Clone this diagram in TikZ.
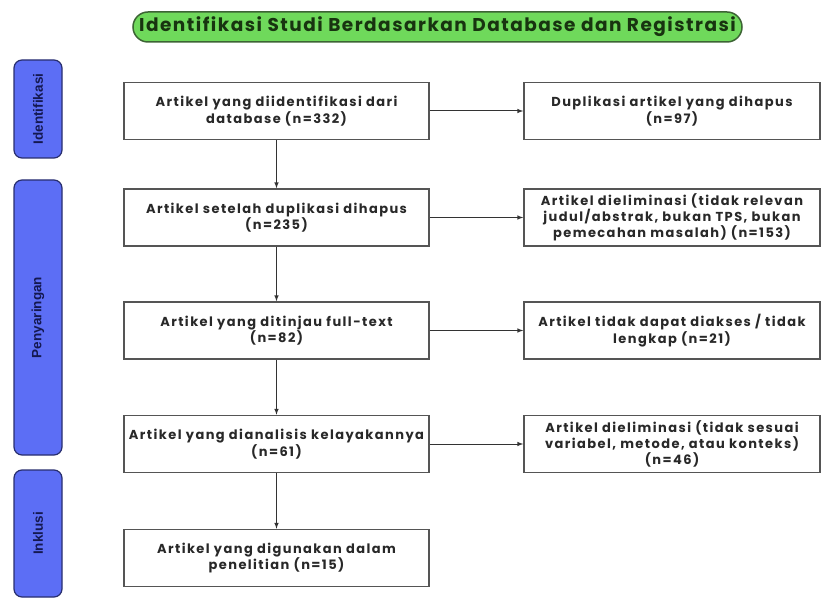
\documentclass[tikz,border=0pt]{standalone}
\usepackage{fontspec}
\setmainfont{Poppins}
\newfontfamily\boxfont{Poppins}[LetterSpace=11]
\newfontfamily\titlefont{Poppins}[LetterSpace=8]
\newfontfamily\sidefont{Liberation Sans}
\usetikzlibrary{arrows}
\definecolor{pillgreen}{RGB}{111,217,91}
\definecolor{pilledge}{RGB}{60,100,52}
\definecolor{pilltext}{RGB}{24,52,16}
\definecolor{sideblue}{RGB}{92,110,245}
\definecolor{sideedge}{RGB}{40,46,110}
\definecolor{sidetext}{RGB}{20,24,80}
\definecolor{boxedge}{RGB}{85,85,85}
\definecolor{boxtext}{RGB}{40,40,40}

\begin{document}
\begin{tikzpicture}[x=1pt,y=-1pt,
  box/.style={draw=boxedge, line width=1.5pt, minimum height=57pt, inner sep=0pt,
    align=center, text=boxtext, font=\boxfont\bfseries\fontsize{13}{14.5}\selectfont},
  lbox/.style={box, minimum width=305pt},
  rbox/.style={box, minimum width=296pt},
  side/.style={draw=sideedge, fill=sideblue, line width=1.2pt, rounded corners=8pt,
    rotate=90, minimum height=48pt, inner sep=0pt, text=sidetext,
    font=\sidefont\bfseries\fontsize{13.5}{16}\selectfont},
  arr/.style={-latex, draw=black!80, line width=1pt}]
\useasboundingbox (0,0) rectangle (822,601);

% title
\node[draw=pilledge, fill=pillgreen, line width=1.5pt, rounded corners=15pt,
  minimum width=609pt, minimum height=30pt, inner sep=0pt, text=pilltext,
  font=\titlefont\bfseries\fontsize{18.5}{20}\selectfont] (T) at (437.5,27)
  {Identifikasi Studi Berdasarkan Database dan Registrasi};

% phases
\node[side, minimum width=98pt] (S1) at (38,109) {Identifikasi};
\node[side, minimum width=275pt] (S2) at (38,317.5) {Penyaringan};
\node[side, minimum width=127pt] (S3) at (38,533.5) {Inklusi};

% main column
\node[lbox] (L1) at (276.5,111) {Artikel yang diidentifikasi dari\\database (n=332)};
\node[lbox] (L2) at (276.5,217.5) {Artikel setelah duplikasi dihapus\\(n=235)};
\node[lbox] (L3) at (276.5,330.5) {Artikel yang ditinjau full-text\\(n=82)};
\node[lbox] (L4) at (276.5,444) {Artikel yang dianalisis kelayakannya\\(n=61)};
\node[lbox] (L5) at (276.5,558) {Artikel yang digunakan dalam\\penelitian (n=15)};

% excluded
\node[rbox] (R1) at (672,111) {Duplikasi artikel yang dihapus\\(n=97)};
\node[rbox] (R2) at (672,217.5) {Artikel dieliminasi (tidak relevan\\judul/abstrak, bukan TPS, bukan\\pemecahan masalah) (n=153)};
\node[rbox] (R3) at (672,330.5) {Artikel tidak dapat diakses / tidak\\lengkap (n=21)};
\node[rbox] (R4) at (672,444) {Artikel dieliminasi (tidak sesuai\\variabel, metode, atau konteks)\\(n=46)};

\draw[arr] (L1) -- (L2);
\draw[arr] (L2) -- (L3);
\draw[arr] (L3) -- (L4);
\draw[arr] (L4) -- (L5);

\draw[arr] (L1) -- (R1);
\draw[arr] (L2) -- (R2);
\draw[arr] (L3) -- (R3);
\draw[arr] (L4) -- (R4);
\end{tikzpicture}
\end{document}
